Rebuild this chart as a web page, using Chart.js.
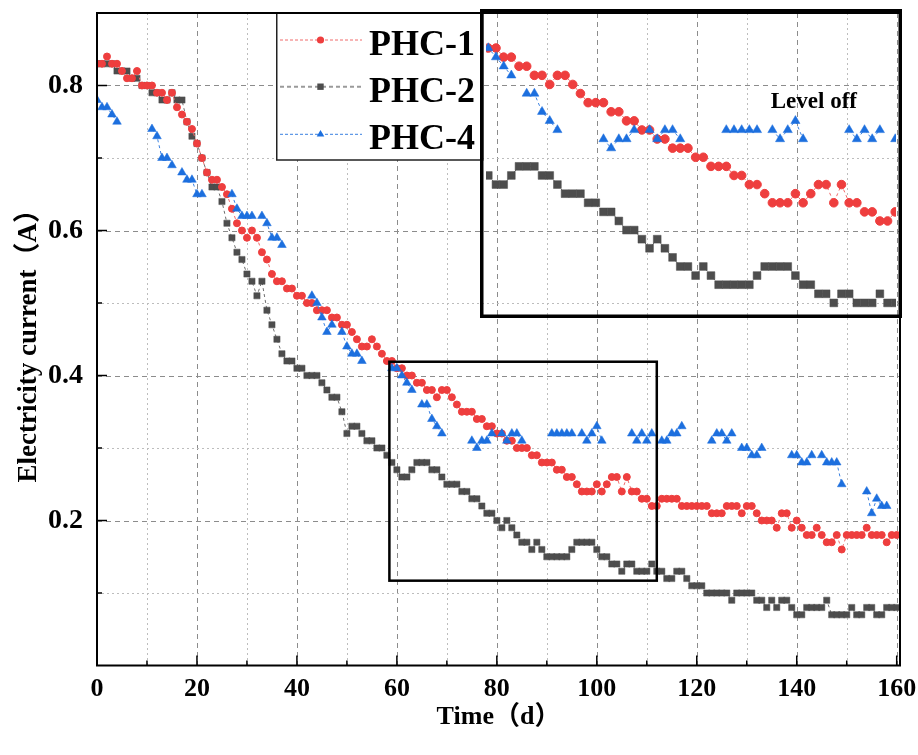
<!DOCTYPE html>
<html><head><meta charset="utf-8">
<script src="https://cdn.jsdelivr.net/npm/chart.js@4.4.1/dist/chart.umd.min.js"></script>
<style>
html,body{margin:0;padding:0;background:#fff;}
#wrap{position:relative;width:918px;height:755px;overflow:hidden;}
#main{position:absolute;left:0;top:0;}
#inset{position:absolute;left:480px;top:9px;}
</style></head><body>
<div id="wrap"><canvas id="main" width="918" height="755"></canvas><canvas id="inset" width="422" height="309"></canvas></div>
<script>
// ---------- data ----------
const days = []; for (let d = 0; d <= 160; d++) days.push(d);
const seriesNames = ['PHC-1', 'PHC-2', 'PHC-4'];
const phc1 = [
 .83,.83,.84,.83,.83,.82,.81,.81,.82,.80,
 .80,.80,.79,.79,.78,.79,.77,.76,.75,.74,
 .72,.70,.68,.67,.67,.66,.65,.63,.61,.60,
 .59,.60,.59,.57,.56,.54,.53,.53,.52,.52,
 .51,.51,.50,.50,.49,.49,.49,.48,.48,.47,
 .47,.46,.45,.44,.44,.45,.44,.43,.42,.42,
 .41,.41,.40,.40,.39,.39,.38,.38,.37,.38,
 .38,.37,.36,.35,.35,.35,.34,.34,.33,.33,
 .32,.32,.31,.31,.30,.30,.30,.29,.29,.28,
 .28,.28,.27,.27,.26,.26,.25,.24,.24,.24,
 .25,.24,.25,.26,.26,.24,.26,.24,.24,.23,
 .23,.22,.22,.23,.23,.23,.23,.22,.22,.22,
 .22,.22,.22,.21,.21,.21,.22,.22,.22,.21,
 .22,.22,.21,.20,.20,.20,.19,.21,.21,.19,
 .20,.19,.18,.18,.19,.18,.17,.17,.18,.16,
 .18,.18,.18,.18,.19,.18,.18,.18,.17,.18,
 .18];
const phc2 = [
 .83,.83,.83,.83,.82,.82,.82,.81,.81,.80,
 .80,.79,.79,.78,.78,.79,.78,.78,.75,.73,
 .72,.70,.68,.66,.66,.64,.61,.59,.57,.56,
 .54,.53,.51,.53,.49,.47,.45,.43,.42,.42,
 .41,.41,.40,.40,.40,.39,.38,.37,.37,.35,
 .32,.33,.33,.32,.31,.31,.30,.30,.29,.28,
 .27,.26,.26,.27,.28,.28,.28,.27,.27,.26,
 .25,.25,.25,.24,.24,.23,.23,.22,.21,.21,
 .20,.19,.20,.19,.18,.17,.17,.16,.17,.16,
 .15,.15,.15,.15,.15,.16,.17,.17,.17,.17,
 .16,.15,.15,.14,.14,.13,.14,.14,.13,.13,
 .13,.14,.13,.13,.12,.12,.13,.13,.12,.11,
 .11,.11,.10,.10,.10,.10,.10,.09,.10,.10,
 .10,.10,.09,.09,.08,.09,.08,.09,.09,.08,
 .07,.07,.08,.08,.08,.08,.09,.07,.07,.07,
 .07,.08,.07,.07,.08,.08,.07,.07,.08,.08,
 .08];
const phc4 = [
 .78,.77,.77,.76,.75,null,null,null,null,null,
 null,.74,.73,.70,.70,.69,null,.68,.67,.67,
 .65,.65,null,null,null,null,null,.65,.63,.62,
 .62,.62,null,.62,.61,.59,.59,.58,null,null,
 null,null,null,.51,.50,.48,.46,.47,null,.46,
 .44,.43,.43,.42,null,null,null,null,null,.41,
 .41,.40,.39,.38,null,.36,.36,.34,.33,.32,
 null,null,null,null,null,.31,.30,.31,.31,.32,
 null,.32,.31,.32,.32,.31,null,null,null,null,
 null,.32,.32,.32,.32,.32,null,.32,.31,.32,
 .33,.31,null,null,null,null,null,.32,.31,.32,
 .31,.32,null,.31,.31,.32,.32,.33,null,null,
 null,null,null,.31,.32,.32,.31,.32,null,.30,
 .30,.29,.29,.30,null,null,null,null,null,.29,
 .29,.28,.28,.29,null,.29,.28,.28,.28,.25,
 null,null,null,null,.24,.21,.23,.22,.22,null,
 null];
const xTickValues = [0, 20, 40, 60, 80, 100, 120, 140, 160];
const yTickValues = [0.2, 0.4, 0.6, 0.8];
const zoomBox = [58.5, 112, 0.117, 0.419];      // x0, x1, y0, y1 (data units)
const insetXRange = [59.7, 113.1];
const insetYRange = [0.12, 0.4463];
const insetNote = 'Level off';
const insetNotePos = [102.4, 0.344];

// ---------- styles ----------
const SERIF = "'Liberation Serif','Times New Roman','Noto Sans CJK SC',serif";
const COLORS = {
  red: '#EE3E3E', redLine: '#F06A6A',
  gray: '#4D4D4D', grayLine: '#6E6E6E',
  blue: '#1C6FDE', blueLine: '#3A80E0'
};

function pts(arr) { return days.map((d, i) => ({x: d, y: arr[i]})); }

function makeDatasets(inset) {
  return [
    {label: seriesNames[0], data: pts(phc1), borderColor: COLORS.redLine, backgroundColor: COLORS.red,
     borderWidth: 1, borderDash: [3, 3], pointStyle: 'circle', pointRadius: inset ? 4.3 : 3.5,
     pointBackgroundColor: COLORS.red, pointBorderColor: COLORS.red, pointBorderWidth: 1, order: 1, spanGaps: false},
    {label: seriesNames[1], data: pts(phc2), borderColor: COLORS.grayLine, backgroundColor: COLORS.gray,
     borderWidth: 1, borderDash: [3, 3], pointStyle: 'rect', pointRadius: inset ? 5.5 : 4.4,
     pointBackgroundColor: COLORS.gray, pointBorderColor: COLORS.gray, pointBorderWidth: 0.5, order: 2, spanGaps: false},
    {label: seriesNames[2], data: pts(phc4), borderColor: COLORS.blueLine, backgroundColor: COLORS.blue,
     borderWidth: 1, borderDash: [3, 3], pointStyle: 'triangle', pointRadius: inset ? 5.3 : 5,
     pointBackgroundColor: COLORS.blue, pointBorderColor: COLORS.blue, pointBorderWidth: 0.5, order: 0, spanGaps: false}
  ];
}

// ---------- main plugins ----------
const gridPlugin = {
  id: 'customGrid',
  beforeDatasetsDraw(chart) {
    const {ctx, chartArea: a, scales: {x, y}} = chart;
    ctx.save();
    ctx.lineWidth = 1;
    for (let v = 10; v <= 160; v += 10) {
      const px = Math.round(x.getPixelForValue(v)) + 0.5;
      const major = v % 20 === 0;
      ctx.strokeStyle = major ? '#8c8c8c' : '#bdbdbd';
      ctx.setLineDash(major ? [5, 4] : [2, 3]);
      ctx.beginPath(); ctx.moveTo(px, a.top); ctx.lineTo(px, a.bottom); ctx.stroke();
    }
    for (let i = 1; i <= 8; i++) {
      const v = i / 10;
      const py = Math.round(y.getPixelForValue(v)) + 0.5;
      const major = i % 2 === 0;
      ctx.strokeStyle = major ? '#8c8c8c' : '#bdbdbd';
      ctx.setLineDash(major ? [5, 4] : [2, 3]);
      ctx.beginPath(); ctx.moveTo(a.left, py); ctx.lineTo(a.right, py); ctx.stroke();
    }
    ctx.restore();
  }
};

function drawMarker(ctx, style, cx, cy, r, color) {
  ctx.fillStyle = color;
  ctx.beginPath();
  if (style === 'circle') {
    ctx.arc(cx, cy, r, 0, Math.PI * 2);
  } else if (style === 'rect') {
    ctx.rect(cx - r, cy - r, 2 * r, 2 * r);
  } else {
    ctx.moveTo(cx, cy - r);
    ctx.lineTo(cx + r * 0.866, cy + r * 0.5);
    ctx.lineTo(cx - r * 0.866, cy + r * 0.5);
    ctx.closePath();
  }
  ctx.fill();
}

const decorPlugin = {
  id: 'decor',
  afterDraw(chart) {
    const {ctx, chartArea: a, scales: {x, y}} = chart;
    ctx.save();
    // zoom box
    const bx0 = x.getPixelForValue(zoomBox[0]), bx1 = x.getPixelForValue(zoomBox[1]);
    const by0 = y.getPixelForValue(zoomBox[3]), by1 = y.getPixelForValue(zoomBox[2]);
    ctx.strokeStyle = '#000'; ctx.lineWidth = 2.5; ctx.setLineDash([]);
    ctx.strokeRect(bx0, by0, bx1 - bx0, by1 - by0);

    // legend
    const L = {left: 276, top: 13, w: 206, h: 147};
    ctx.fillStyle = '#fff';
    ctx.fillRect(L.left, L.top, L.w, L.h);
    ctx.strokeStyle = '#222'; ctx.lineWidth = 1.5;
    ctx.strokeRect(L.left + 0.75, L.top, L.w, L.h);
    const rows = [40, 86.7, 134.3];
    const styles = [
      {line: COLORS.redLine, lw: 1, dash: [3, 2], pt: 'circle', r: 3.6, c: COLORS.red},
      {line: '#9a9a9a', lw: 2, dash: [4, 3], pt: 'rect', r: 3.2, c: COLORS.gray},
      {line: COLORS.blueLine, lw: 1, dash: [3, 2], pt: 'triangle', r: 4.4, c: COLORS.blue}
    ];
    styles.forEach((s, i) => {
      const ry = rows[i];
      ctx.strokeStyle = s.line; ctx.lineWidth = s.lw; ctx.setLineDash(s.dash);
      ctx.beginPath(); ctx.moveTo(280, ry); ctx.lineTo(362, ry); ctx.stroke();
      ctx.setLineDash([]);
      drawMarker(ctx, s.pt, 320.5, ry, s.r, s.c);
      ctx.fillStyle = '#000';
      ctx.font = 'bold 36px ' + SERIF;
      ctx.textAlign = 'left'; ctx.textBaseline = 'alphabetic';
      ctx.fillText(seriesNames[i], 369, ry + 15);
    });

    // frame
    ctx.setLineDash([]);
    ctx.strokeStyle = '#000'; ctx.lineWidth = 2;
    ctx.strokeRect(a.left, a.top, a.right - a.left, a.bottom - a.top);

    // inward tick marks
    ctx.lineWidth = 1.5;
    ctx.beginPath();
    for (let v = 0; v <= 160; v += 10) {
      const px = x.getPixelForValue(v);
      const len = v % 20 === 0 ? 10 : 5;
      ctx.moveTo(px, a.bottom); ctx.lineTo(px, a.bottom - len);
    }
    for (let i = 1; i <= 8; i++) {
      const py = y.getPixelForValue(i / 10);
      const len = i % 2 === 0 ? 10 : 5;
      ctx.moveTo(a.left, py); ctx.lineTo(a.left + len, py);
    }
    ctx.stroke();
    ctx.restore();
  }
};

// ---------- main chart ----------
new Chart(document.getElementById('main'), {
  type: 'line',
  data: {datasets: makeDatasets(false)},
  options: {
    responsive: false, animation: false, devicePixelRatio: 1,
    layout: {padding: {left: 0, top: 13, right: 18, bottom: 0}},
    plugins: {legend: {display: false}, tooltip: {enabled: false}},
    scales: {
      x: {
        type: 'linear', min: 0, max: 160.66,
        afterBuildTicks: s => { s.ticks = xTickValues.map(v => ({value: v})); },
        afterFit: s => { s.height = 89.5; s.paddingLeft = 0; s.paddingRight = 0; },
        grid: {display: false, drawTicks: false},
        border: {display: false},
        ticks: {font: {family: SERIF, size: 26, weight: 'bold'}, color: '#000', padding: 8,
                maxRotation: 0, autoSkip: false, callback: v => String(v)},
        title: {display: true, text: 'Time（d）', color: '#000',
                font: {family: SERIF, size: 26, weight: 'bold'}, padding: {top: 0, bottom: 22}}
      },
      y: {
        type: 'linear', min: 0, max: 0.9,
        afterBuildTicks: s => { s.ticks = yTickValues.map(v => ({value: v})); },
        afterFit: s => { s.width = 97; s.paddingTop = 0; s.paddingBottom = 0; },
        grid: {display: false, drawTicks: false},
        border: {display: false},
        ticks: {font: {family: SERIF, size: 28, weight: 'bold'}, color: '#000', padding: 14,
                callback: v => Number(v).toFixed(1)},
        title: {display: true, text: 'Electricity current（A）', color: '#000',
                font: {family: SERIF, size: 27, weight: 'bold'}, padding: {top: 13, bottom: 0}}
      }
    }
  },
  plugins: [gridPlugin, decorPlugin]
});

// ---------- inset chart ----------
const insetPlugin = {
  id: 'insetDecor',
  afterDraw(chart) {
    const {ctx, scales: {x, y}} = chart;
    ctx.save();
    ctx.fillStyle = '#000';
    ctx.font = 'bold 23px ' + SERIF;
    ctx.textAlign = 'center'; ctx.textBaseline = 'alphabetic';
    ctx.fillText(insetNote, x.getPixelForValue(insetNotePos[0]), y.getPixelForValue(insetNotePos[1]));
    ctx.strokeStyle = '#000'; ctx.lineWidth = 3.5; ctx.setLineDash([]);
    ctx.strokeRect(1.75, 1.75, chart.width - 3.5, chart.height - 3.5);
    ctx.restore();
  }
};

new Chart(document.getElementById('inset'), {
  type: 'line',
  data: {datasets: makeDatasets(true)},
  options: {
    responsive: false, animation: false, devicePixelRatio: 1,
    layout: {padding: {left: 2, right: 2, top: 1, bottom: 2}},
    plugins: {legend: {display: false}, tooltip: {enabled: false}},
    scales: {
      x: {type: 'linear', display: false, min: insetXRange[0], max: insetXRange[1]},
      y: {type: 'linear', display: false, min: insetYRange[0], max: insetYRange[1]}
    }
  },
  plugins: [insetPlugin]
});
</script>
</body></html>
